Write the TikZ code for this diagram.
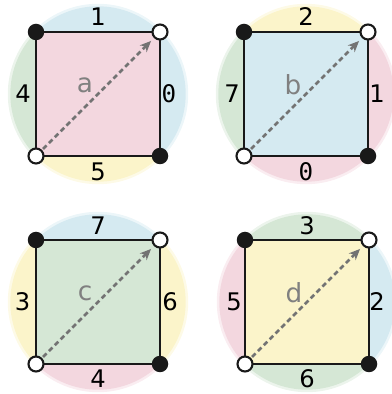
\documentclass[tikz,border=0pt]{standalone}
\usepackage{fontspec}
\setmainfont{DejaVu Sans}
\newfontfamily\digitfont{DejaVu Sans Mono}
\usepackage{tikz}
\usetikzlibrary{arrows.meta}
\definecolor{segpink}{HTML}{F3D7DF}
\definecolor{segblue}{HTML}{D5EAF1}
\definecolor{seggreen}{HTML}{D5E7D5}
\definecolor{segyellow}{HTML}{FBF4CA}
% one circular segment of the disc round a square, #1 = direction, #2 = colour
\newcommand{\seg}[2]{\fill[#2] (#1-45:0.877) arc[start angle=#1-45,end angle=#1+45,radius=0.877] -- cycle;
  \draw[#2, line width=2.5pt, opacity=0.45] (#1-44:0.885) arc[start angle=#1-44,end angle=#1+44,radius=0.885];}
% the square, its corners and the diagonal, #1 = prefix, #2 = fill, #3 = letter
\newcommand{\sq}[3]{%
  \fill[#2] (-0.62,-0.62) rectangle (0.62,0.62);
  \coordinate (#1tl) at (-0.62,0.62);
  \coordinate (#1tr) at (0.62,0.62);
  \coordinate (#1br) at (0.62,-0.62);
  \coordinate (#1bl) at (-0.62,-0.62);
  \draw[edge] (#1tl) -- (#1tr) -- (#1br) -- (#1bl) -- cycle;
  \node[letter] (#1name) at (-0.13,0.09) {#3};
  \node[fulldot] (#1dtl) at (#1tl) {};
  \node[fulldot] (#1dbr) at (#1br) {};
  \node[opendot] (#1dtr) at (#1tr) {};
  \node[opendot] (#1dbl) at (#1bl) {};
  \draw[diag] (#1dbl) -- (#1dtr);}

\tikzset{
  edge/.style={black!90, line width=1.8pt, line join=round},
  fulldot/.style={circle, fill=black!90, minimum size=0.165in, inner sep=0pt},
  opendot/.style={circle, draw=black!90, fill=white, line width=1.5pt, minimum size=0.15in, inner sep=0pt},
  diag/.style={black!55, line width=1.8pt, dash pattern=on 3.6pt off 2.4pt, -{Stealth[length=8pt,width=7pt]}, shorten >=3pt, shorten <=1pt},
  letter/.style={font=\fontsize{19}{22}\selectfont, text=black!50},
  sidelabel/.style={font=\fontsize{17.5}{20}\selectfont, text=black}
}

\begin{document}
\begin{tikzpicture}[x=1in,y=1in]
\useasboundingbox (0,0) rectangle (3.92,3.94);

% a
\begin{scope}[shift={(0.98,3.00)}]
\seg{90}{segblue} \seg{0}{segblue} \seg{270}{segyellow} \seg{180}{seggreen}
\sq{a}{segpink}{a}
\node[sidelabel] (atop) at (0,0.77) {1};
\node[sidelabel] (aright) at (0.71,0) {\digitfont 0};
\node[sidelabel] (abot) at (0,-0.775) {5};
\node[sidelabel] (aleft) at (-0.75,0) {4};
\end{scope}

% b
\begin{scope}[shift={(3.06,3.00)}]
\seg{90}{segyellow} \seg{0}{segpink} \seg{270}{segpink} \seg{180}{seggreen}
\sq{b}{segblue}{b}
\node[sidelabel] (btop) at (0,0.77) {2};
\node[sidelabel] (bright) at (0.71,0) {1};
\node[sidelabel] (bbot) at (0,-0.775) {\digitfont 0};
\node[sidelabel] (bleft) at (-0.74,0) {7};
\end{scope}

% c
\begin{scope}[shift={(0.98,0.92)}]
\seg{90}{segblue} \seg{0}{segyellow} \seg{270}{segpink} \seg{180}{segyellow}
\sq{c}{seggreen}{c}
\node[sidelabel] (ctop) at (0,0.765) {7};
\node[sidelabel] (cright) at (0.72,0) {6};
\node[sidelabel] (cbot) at (0,-0.765) {4};
\node[sidelabel] (cleft) at (-0.755,0) {3};
\end{scope}

% d
\begin{scope}[shift={(3.07,0.92)}]
\seg{90}{seggreen} \seg{0}{segblue} \seg{270}{seggreen} \seg{180}{segpink}
\sq{d}{segyellow}{d}
\node[sidelabel] (dtop) at (0,0.765) {3};
\node[sidelabel] (dright) at (0.70,0) {2};
\node[sidelabel] (dbot) at (0,-0.765) {6};
\node[sidelabel] (dleft) at (-0.73,0) {5};
\end{scope}
\end{tikzpicture}
\end{document}
